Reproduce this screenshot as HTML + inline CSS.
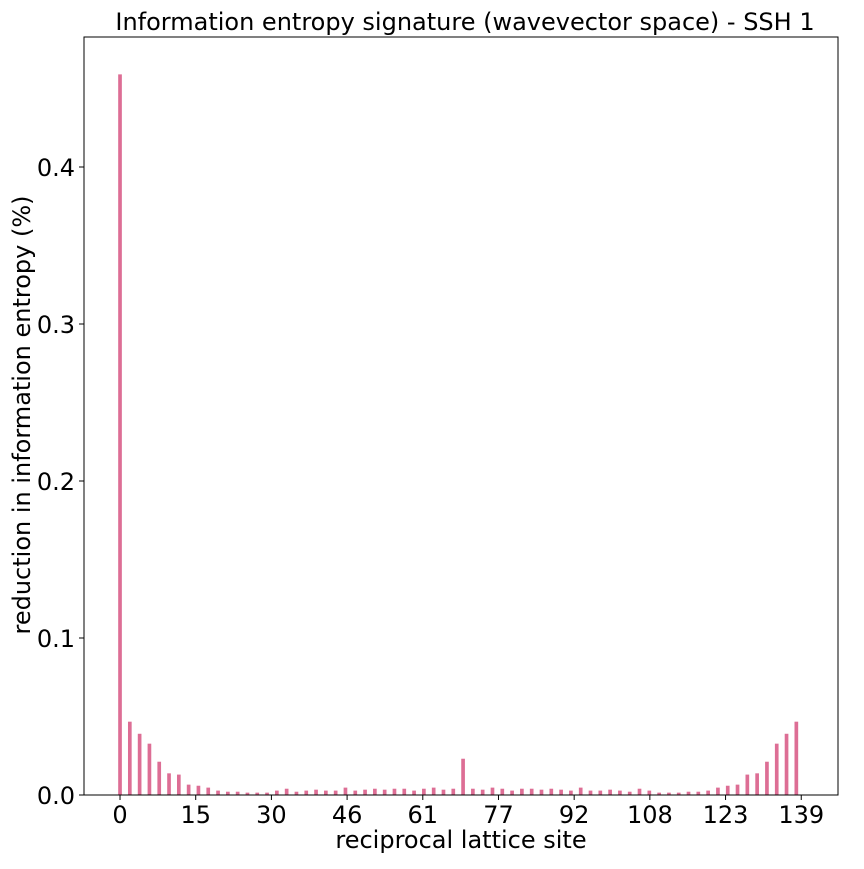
<!DOCTYPE html>
<html><head><meta charset="utf-8"><style>
body{margin:0;background:#fff;}
svg text{font-family:"DejaVu Sans","Liberation Sans",sans-serif;fill:#000;}
</style></head><body>
<svg id="chart" width="864" height="864" xmlns="http://www.w3.org/2000/svg">
<rect width="864" height="864" fill="#fff"/>
<text x="465" y="30" font-size="24" text-anchor="middle">Information entropy signature (wavevector space) - SSH 1</text>
<g id="bars"></g>
<g id="xticks"></g>
<g id="yticks"></g>
<rect x="84" y="37" width="754" height="758" fill="none" stroke="#000" stroke-width="1"/>
<text x="461" y="848" font-size="24" text-anchor="middle">reciprocal lattice site</text>
<text transform="translate(30,415) rotate(-90)" font-size="24" text-anchor="middle">reduction in information entropy (%)</text>
</svg>
<script>
const sites = [];
for (let s = 0; s <= 138; s += 2) sites.push(s);
const values = [0.459,0.0467,0.039,0.0327,0.0212,0.0138,0.0130,0.0066,0.0059,0.0047,0.0028,0.0021,0.0021,0.0015,0.0015,0.0015,0.0028,0.0040,0.0021,0.0028,0.0034,0.0028,0.0028,0.0047,0.0028,0.0034,0.0040,0.0034,0.0040,0.0040,0.0028,0.0040,0.0047,0.0034,0.0040,0.0231,0.0040,0.0034,0.0047,0.0040,0.0028,0.0040,0.0040,0.0034,0.0040,0.0034,0.0028,0.0047,0.0028,0.0028,0.0034,0.0028,0.0021,0.0040,0.0028,0.0015,0.0015,0.0015,0.0021,0.0021,0.0028,0.0047,0.0059,0.0066,0.0130,0.0138,0.0212,0.0327,0.039,0.0467];
const xTickLabels = [0,15,30,46,61,77,92,108,123,139];
const yTickValues = [0.0,0.1,0.2,0.3,0.4];
const yTickLabels = ["0.0","0.1","0.2","0.3","0.4"];
const NS = "http://www.w3.org/2000/svg";
const xmin = -7.35, xmax = 146.5, px0 = 84, px1 = 838;
const x = v => px0 + (v - xmin) / (xmax - xmin) * (px1 - px0);
const y = v => 795 - v * 1570;
const bw = 0.75;
const bars = document.getElementById('bars');
sites.forEach((s, i) => {
  const r = document.createElementNS(NS, 'rect');
  
  
  r.setAttribute('x', x(s - bw / 2));
  r.setAttribute('width', x(s + bw / 2) - x(s - bw / 2));
  r.setAttribute('y', y(values[i]));
  r.setAttribute('height', 795 - y(values[i]));
  r.setAttribute('fill', '#dd6e95');
  bars.appendChild(r);
});
const xt = document.getElementById('xticks');
xTickLabels.forEach((lab, i) => {
  const pos = x(i * 139 / 9);
  const l = document.createElementNS(NS, 'line');
  
  
  l.setAttribute('x1', pos); l.setAttribute('x2', pos);
  l.setAttribute('y1', 795); l.setAttribute('y2', 800);
  l.setAttribute('stroke', '#000');
  xt.appendChild(l);
  const t = document.createElementNS(NS, 'text');
  
  
  t.setAttribute('x', pos); t.setAttribute('y', 823);
  t.setAttribute('font-size', '24');
  t.setAttribute('text-anchor', 'middle');
  t.textContent = lab;
  xt.appendChild(t);
});
const yt = document.getElementById('yticks');
yTickValues.forEach((v, i) => {
  const pos = y(v);
  const l = document.createElementNS(NS, 'line');
  
  
  l.setAttribute('x1', 79); l.setAttribute('x2', 84);
  l.setAttribute('y1', pos); l.setAttribute('y2', pos);
  l.setAttribute('stroke', '#000');
  yt.appendChild(l);
  const t = document.createElementNS(NS, 'text');
  
  
  t.setAttribute('x', 75); t.setAttribute('y', pos + 9);
  t.setAttribute('font-size', '24');
  t.setAttribute('text-anchor', 'end');
  t.textContent = yTickLabels[i];
  yt.appendChild(t);
});
</script>
</body></html>
